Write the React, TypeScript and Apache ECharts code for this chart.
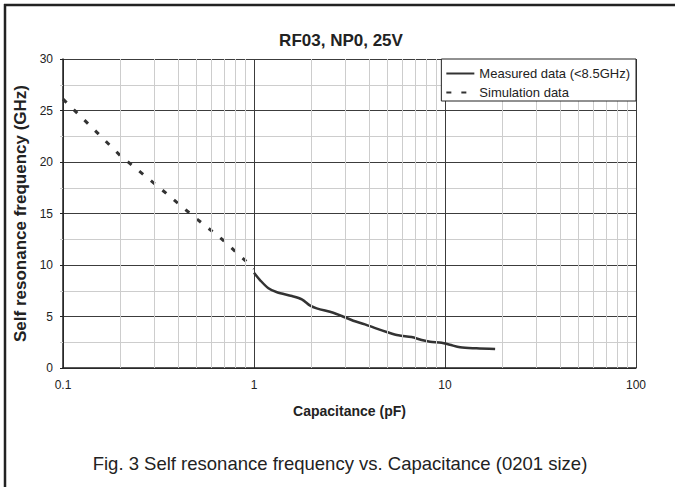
import React, { useEffect, useRef } from "react";
import * as echarts from "echarts";

const titleText = "RF03, NP0, 25V";
const xName = "Capacitance (pF)";
const yName = "Self resonance frequency (GHz)";
const caption = "Fig. 3 Self resonance frequency vs. Capacitance (0201 size)";

const measuredName = "Measured data (<8.5GHz)";
const simulationName = "Simulation data";

// Capacitance (pF) / self resonance frequency (GHz)
const measuredC = [1, 1.075, 1.19, 1.32, 1.58, 1.78, 1.97, 2.13, 2.6, 2.88, 3.31, 3.81, 4.39, 4.95, 5.7, 6.68, 7.55, 8.35, 9.6, 10.6, 12.0, 14.6, 18.3];
const measuredF = [9.25, 8.54, 7.74, 7.35, 6.99, 6.67, 6.05, 5.79, 5.37, 5.05, 4.59, 4.24, 3.82, 3.5, 3.17, 3.01, 2.72, 2.55, 2.46, 2.26, 2.01, 1.91, 1.84];

const simC = [0.1, 0.15, 0.2, 0.32, 0.47, 0.69, 1];
const simF = [26.1, 22.9, 20.6, 17.5, 14.9, 12.4, 9.65];

const xMinorTicks = [0.2, 0.3, 0.4, 0.5, 0.6, 0.7, 0.8, 0.9, 2, 3, 4, 5, 6, 7, 8, 9, 20, 30, 40, 50, 60, 70, 80, 90];
const xTickLabels: Record<string, string> = { "0.1": "0.1", "1": "1", "10": "10", "100": "100" };

const FONT = "Liberation Sans, Arial, Helvetica, sans-serif";
const DARK = "#3c3c3c";
const LIGHT = "#cdcdcd";
const TEXT = "#222222";

export default function App() {
  const ref = useRef<HTMLDivElement>(null);
  useEffect(() => {
    if (!ref.current) return;
    const chart = echarts.init(ref.current, undefined, { renderer: "svg" });
    chart.setOption({
      animation: false,
      backgroundColor: "#ffffff",
      textStyle: { fontFamily: FONT, color: TEXT },
      title: {
        text: titleText,
        left: 341,
        textAlign: "center",
        top: 32,
        padding: 0,
        textStyle: { fontFamily: FONT, fontSize: 17, fontWeight: "bold", color: TEXT },
      },
      legend: {
        orient: "vertical",
        right: 39,
        top: 59,
        padding: [8, 6, 2, 4],
        itemGap: 6,
        itemWidth: 28,
        itemHeight: 14,
        backgroundColor: "#ffffff",
        borderColor: "#222222",
        borderWidth: 1,
        borderRadius: 0,
        z: 10,
        itemStyle: { opacity: 0 },
        data: [measuredName, simulationName],
        textStyle: { fontFamily: FONT, fontSize: 13, color: TEXT },
      },
      grid: { left: 63, right: 39, top: 59, bottom: 119, containLabel: false },
      xAxis: {
        type: "log",
        logBase: 10,
        min: 0.1,
        max: 100,
        name: xName,
        nameLocation: "middle",
        nameGap: 36,
        nameTextStyle: { fontFamily: FONT, fontSize: 14, fontWeight: "bold", color: TEXT },
        axisLine: { show: true, lineStyle: { color: "#222222", width: 1.5 } },
        axisTick: { show: false },
        axisLabel: {
          fontFamily: FONT,
          fontSize: 12,
          color: TEXT,
          margin: 11,
          formatter: (v: number) => {
            const k = String(Number(v.toPrecision(6)));
            return xTickLabels[k] ?? k;
          },
        },
        splitLine: { show: true, lineStyle: { color: DARK, width: 1 } },
      },
      yAxis: {
        type: "value",
        min: 0,
        max: 30,
        interval: 5,
        name: yName,
        nameLocation: "middle",
        nameGap: 32,
        nameTextStyle: { fontFamily: FONT, fontSize: 17, fontWeight: "bold", color: TEXT },
        axisLine: { show: true, lineStyle: { color: "#222222", width: 1.5 } },
        axisTick: { show: true, length: 3, lineStyle: { color: "#222222" } },
        minorTick: { show: true, splitNumber: 2, length: 3, lineStyle: { color: LIGHT } },
        minorSplitLine: { show: true, lineStyle: { color: LIGHT, width: 1 } },
        axisLabel: { fontFamily: FONT, fontSize: 12, color: TEXT, margin: 10 },
        splitLine: { show: true, lineStyle: { color: DARK, width: 1 } },
      },
      graphic: [
        {
          type: "line",
          shape: { x1: 4, y1: 5, x2: 675, y2: 5 },
          style: { stroke: "#222222", lineWidth: 2.5 },
        },
        {
          type: "line",
          shape: { x1: 5, y1: 4, x2: 5, y2: 487 },
          style: { stroke: "#222222", lineWidth: 2.5 },
        },
        {
          type: "text",
          x: 340,
          y: 463,
          style: {
            text: caption,
            fontFamily: FONT,
            fontSize: 18.5,
            fill: TEXT,
            textAlign: "center",
            textVerticalAlign: "middle",
          },
        },
      ],
      series: [
        {
          name: "minor-grid",
          type: "line",
          data: [],
          z: 1,
          silent: true,
          markLine: {
            silent: true,
            symbol: ["none", "none"],
            label: { show: false },
            emphasis: { disabled: true },
            lineStyle: { color: LIGHT, width: 1, type: "solid" },
            data: xMinorTicks.map((v) => ({ xAxis: v })),
          },
        },
        {
          name: simulationName,
          type: "line",
          z: 3,
          symbol: "none",
          showSymbol: false,
          lineStyle: { color: "#333333", width: 3, type: [5, 10] },
          itemStyle: { color: "#333333" },
          data: simC.map((c, i) => [c, simF[i]]),
        },
        {
          name: measuredName,
          type: "line",
          z: 3,
          symbol: "none",
          showSymbol: false,
          smooth: 0.3,
          lineStyle: { color: "#333333", width: 2.5, type: "solid" },
          itemStyle: { color: "#333333" },
          data: measuredC.map((c, i) => [c, measuredF[i]]),
        },
      ],
    });
    return () => chart.dispose();
  }, []);
  return (
    <div
      ref={ref}
      style={{ position: "absolute", left: 0, top: 0, width: 675, height: 487, background: "#ffffff" }}
    />
  );
}
